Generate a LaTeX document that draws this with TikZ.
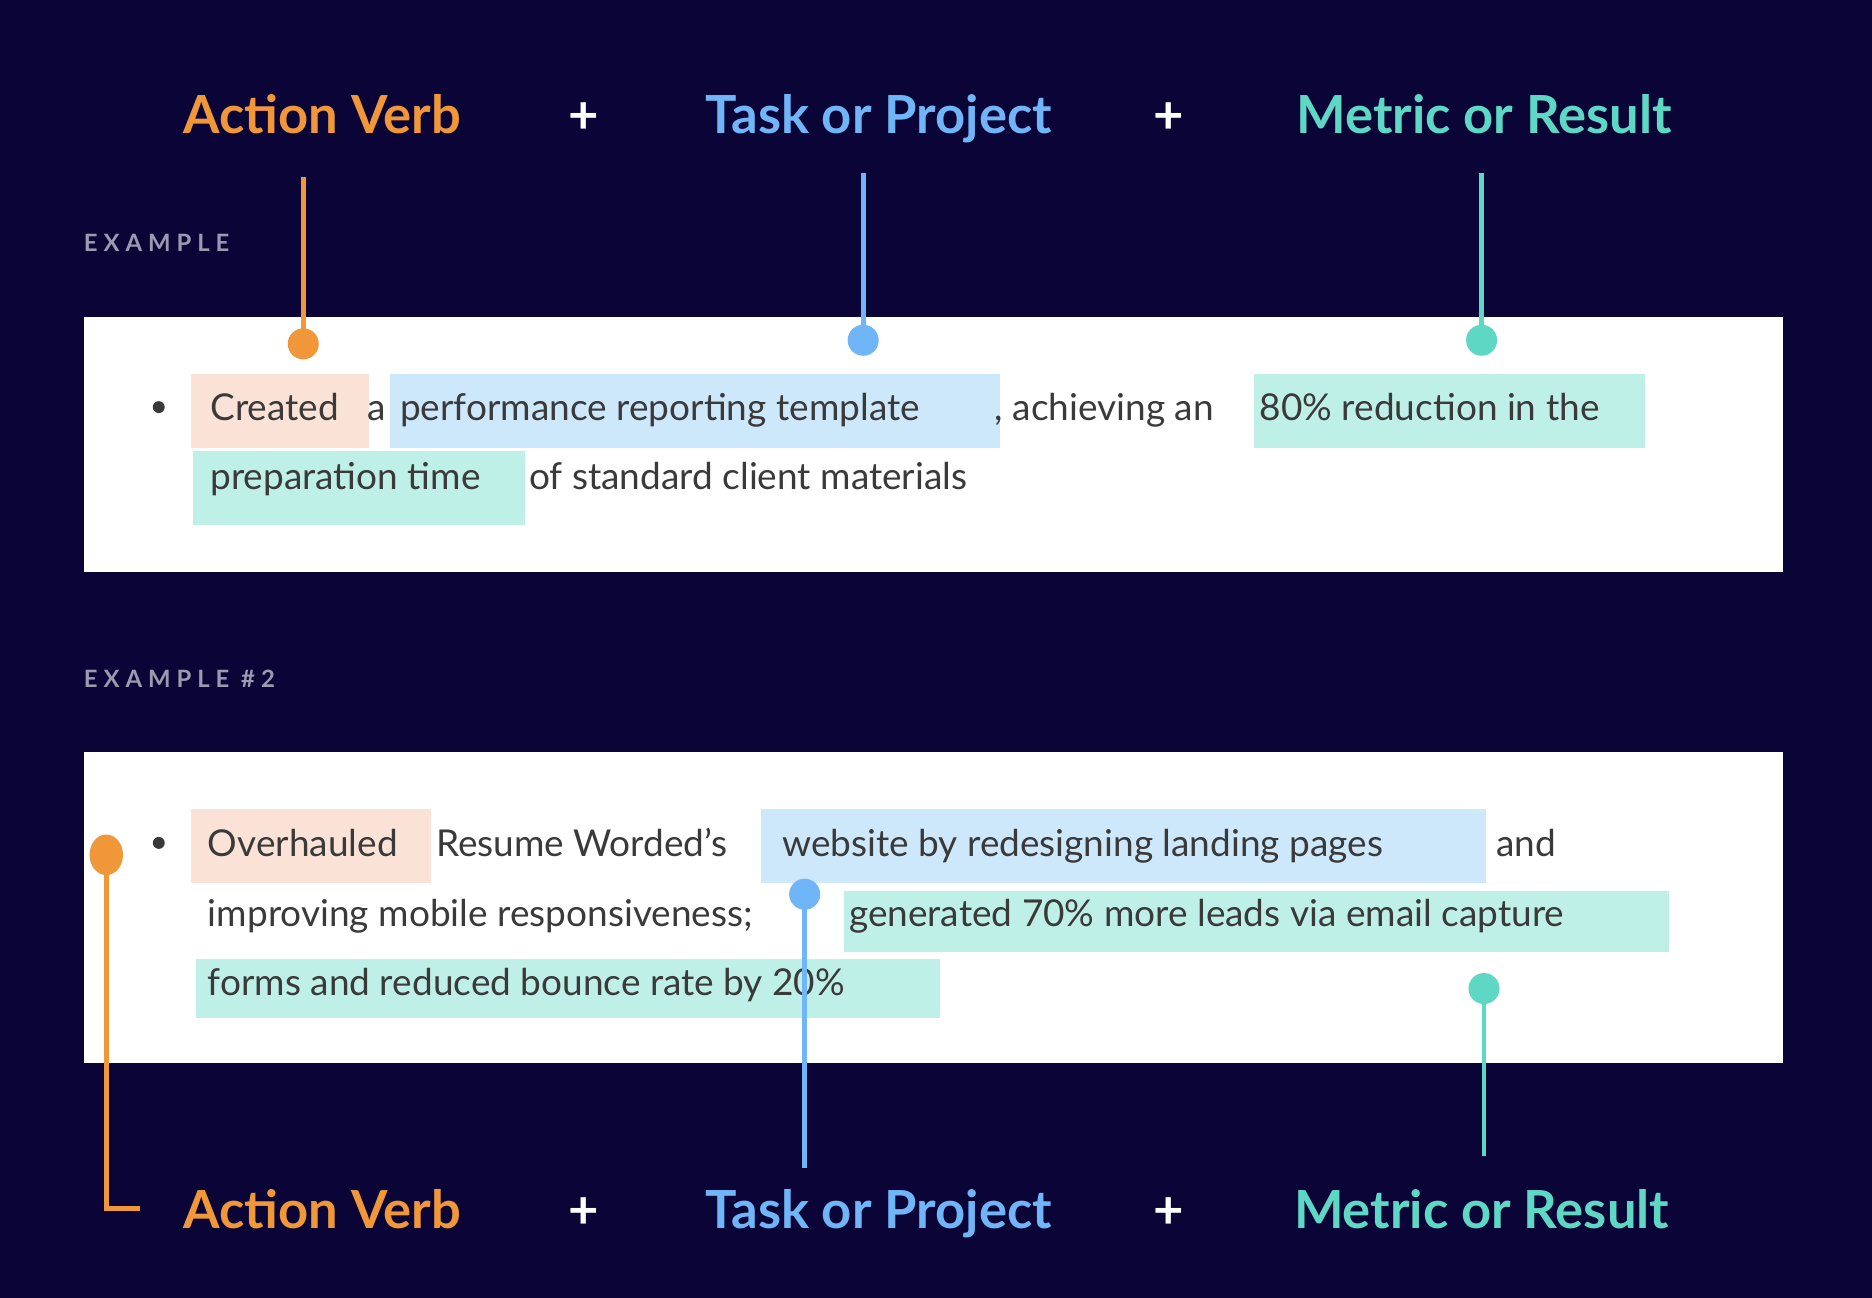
\documentclass[tikz,border=0pt]{standalone}
\usepackage{fontspec}
\setmainfont{Lato}
\newfontfamily\labfont[LetterSpace=25]{Lato}
\definecolor{bg}{HTML}{0A0536}
\definecolor{cor}{HTML}{F0973A}
\definecolor{cbl}{HTML}{6FB5F7}
\definecolor{cte}{HTML}{5ED8C5}
\definecolor{hor}{HTML}{FAE3D6}
\definecolor{hbl}{HTML}{CDE7FB}
\definecolor{hte}{HTML}{BFF0E8}
\definecolor{txt}{HTML}{3A3A3A}
\definecolor{lab}{HTML}{9A9AB0}
\begin{document}
\begin{tikzpicture}[x=1pt,y=-1pt,
  title/.style={font=\fontsize{44}{50}\selectfont\bfseries, anchor=base},
  plus/.style={title,white},
  body/.style={font=\fontsize{31}{36}\selectfont, text=txt, anchor=base west, inner sep=0},
  lbl/.style={font=\fontsize{20}{24}\selectfont\labfont\bfseries, text=lab, anchor=base west, inner sep=0},
  conn/.style={line width=4pt},
  box/.style={fill=white}]
\useasboundingbox (0,0) rectangle (1568,1087);
\fill[bg] (0,0) rectangle (1568,1087);
% titles top
\node[title,text=cor] (t1) at (270,112) {Action Verb};
\node[plus] (p1) at (489,112) {+};
\node[title,text=cbl] (t2) at (736,112) {Task or Project};
\node[plus] (p2) at (979,112) {+};
\node[title,text=cte] (t3) at (1243,112) {Metric or Result};
% bottom titles
\node[title,text=cor] (b1) at (270,1029) {Action Verb};
\node[plus] (p3) at (489,1029) {+};
\node[title,text=cbl] (b2) at (736,1029) {Task or Project};
\node[plus] (p4) at (979,1029) {+};
\node[title,text=cte] (b3) at (1241,1029) {Metric or Result};
% labels
\node[lbl] (l1) at (70,211) {EXAMPLE};
\node[lbl] (l2) at (70,576) {EXAMPLE \#2};
% boxes
\node[box,minimum width=1423,minimum height=214,inner sep=0,anchor=north west] (box1) at (70,265) {};
\node[box,minimum width=1423,minimum height=260,inner sep=0,anchor=north west] (box2) at (70,630) {};
% highlights box1
\fill[hor] (160,313) rectangle (309,375);
\fill[hbl] (327,313) rectangle (838,375);
\fill[hte] (1050,313) rectangle (1378,375);
\fill[hte] (162,378) rectangle (440,440);
% highlights box2
\fill[hor] (160,678) rectangle (361,740);
\fill[hbl] (637,678) rectangle (1245,740);
\fill[hte] (707,746) rectangle (1398,797);
\fill[hte] (164,803) rectangle (787,853);
% bullets
\fill[txt] (133,341) circle (5);
\fill[txt] (133,706) circle (5);
% text box1
\node[body] (a1) at (176,352) {Created};
\node[body] (a2) at (308,352) {a};
\node[body] (a3) at (335,352) {performance reporting template};
\node[body] (a4) at (833,352) {, achieving an};
\node[body] (a5) at (1055,352) {80\% reduction in the};
\node[body] (a6) at (176,410) {preparation time};
\node[body] (a7) at (443,410) {of standard client materials};
% text box2
\node[body] (c1) at (174,717) {Overhauled};
\node[body] (c2) at (365,717) {Resume Worded’s};
\node[body] (c3) at (655,717) {website by redesigning landing pages};
\node[body] (c4) at (1253,717) {and};
\node[body] (c5) at (174,776) {improving mobile responsiveness;};
\node[body] (c6) at (711,776) {generated 70\% more leads via email capture};
\node[body] (c7) at (174,834) {forms and reduced bounce rate by 20\%};
% connectors top
\coordinate (o1) at (254,148); \coordinate (od1) at (254,288);
\coordinate (u1) at (723,145); \coordinate (ud1) at (723,285);
\coordinate (m1) at (1241,145); \coordinate (md1) at (1241,285);
\draw[conn,cor] (o1) -- (od1); \fill[cor] (od1) circle (13);
\draw[conn,cbl] (u1) -- (ud1); \fill[cbl] (ud1) circle (13);
\draw[conn,cte] (m1) -- (md1); \fill[cte] (md1) circle (13);
% connectors bottom
\coordinate (o2) at (89,716); \coordinate (o3) at (89,1012); \coordinate (o4) at (117,1012);
\draw[conn,cor] (o2) -- (o3) -- (o4); \fill[cor] (89,716) ellipse (14 and 17);
\coordinate (u2) at (674,749); \coordinate (u3) at (674,978);
\draw[conn,cbl] (u2) -- (u3); \fill[cbl] (u2) circle (13);
\coordinate (m2) at (1243,828); \coordinate (m3) at (1243,968);
\draw[conn,cte] (m2) -- (m3); \fill[cte] (m2) circle (13);
\end{tikzpicture}
\end{document}
